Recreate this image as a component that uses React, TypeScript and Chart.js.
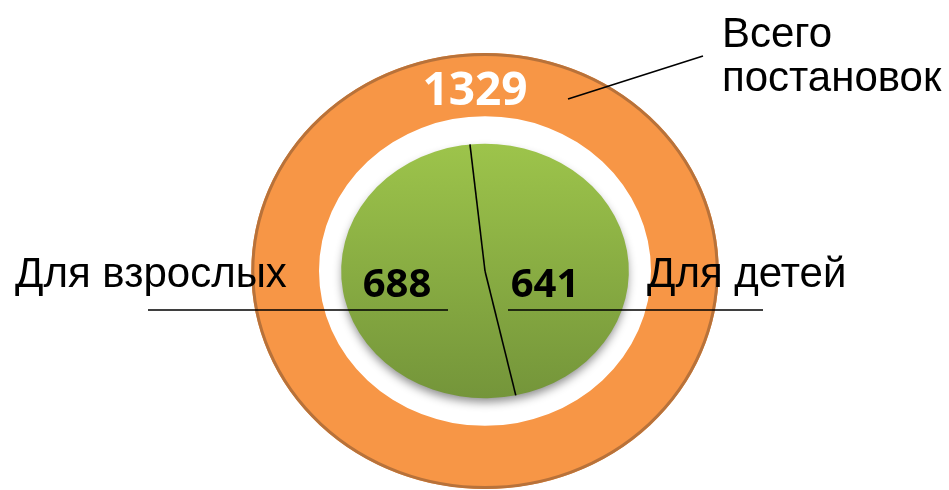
import React, { useEffect, useRef } from "react";
import { Chart, registerables } from "chart.js";

Chart.register(...registerables);

// ---- data ----
const categories = ["Для детей", "Для взрослых"];
const partValues = [641, 688];
const totalTitle = ["Всего", "постановок"];
const totalValues = [1329];
const spacerValues = [1];

// ---- styles ----
const ORANGE = "#F79646";
const ORANGE_EDGE = "#B8723A";
const GREEN_TOP = "#9DC44B";
const GREEN_BOTTOM = "#74953A";
const SCALE_X = [1.072, 1.08, 1.13]; // horizontal stretch per ring (ellipse look)
const LABEL_FONT = '42px "Liberation Sans", Arial, sans-serif';

export default function App() {
  const ref = useRef<HTMLCanvasElement>(null);

  useEffect(() => {
    const canvas = ref.current;
    if (!canvas) return;

    const greenFill = (c: any) => {
      const chart = c.chart;
      const area = chart.chartArea;
      if (!area) return GREEN_TOP;
      const meta = chart.getDatasetMeta(c.datasetIndex);
      const ctrl: any = meta.controller;
      const cy = (area.top + area.bottom) / 2 + (ctrl.offsetY || 0);
      const r = ctrl.outerRadius || 120;
      const g = chart.ctx.createLinearGradient(0, cy - r, 0, cy + r);
      g.addColorStop(0, GREEN_TOP);
      g.addColorStop(1, GREEN_BOTTOM);
      return g;
    };

    const deco = {
      id: "deco",
      beforeDatasetDraw(chart: any, args: any) {
        const ctx = chart.ctx;
        const el = args.meta.data[0];
        const cx = el.x, cy = el.y;
        const sx = SCALE_X[args.index] ?? 1;
        ctx.save();
        ctx.translate(cx, cy);
        ctx.scale(sx, 1);
        ctx.translate(-cx, -cy);
        if (args.index === 2) {
          ctx.save();
          ctx.shadowColor = "rgba(0,0,0,0.45)";
          ctx.shadowBlur = 10;
          ctx.shadowOffsetY = 5;
          ctx.fillStyle = GREEN_BOTTOM;
          ctx.beginPath();
          ctx.arc(cx, cy, el.outerRadius - 1, 0, Math.PI * 2);
          ctx.fill();
          ctx.restore();
        }
      },
      afterDatasetDraw(chart: any) {
        chart.ctx.restore();
      },
      afterDatasetsDraw(chart: any) {
        const ctx = chart.ctx;
        const outer = chart.getDatasetMeta(0).data[0];
        const cx = outer.x, cy = outer.y, R = outer.outerRadius;

        // outer edge of ring
        ctx.save();
        ctx.strokeStyle = ORANGE_EDGE;
        ctx.lineWidth = 3;
        ctx.beginPath();
        ctx.ellipse(cx, cy, R * SCALE_X[0] - 1.5, R - 1.5, 0, 0, Math.PI * 2);
        ctx.stroke();

        // slice dividers of inner pie
        const pie = chart.getDatasetMeta(2).data;
        ctx.strokeStyle = "#000";
        ctx.lineWidth = 1.6;
        pie.forEach((arc: any) => {
          const a = arc.startAngle;
          const r = arc.outerRadius;
          ctx.beginPath();
          ctx.moveTo(arc.x, arc.y);
          ctx.lineTo(arc.x + Math.cos(a) * r * SCALE_X[2], arc.y + Math.sin(a) * r);
          ctx.stroke();
        });

        // leader lines
        ctx.lineWidth = 1.6;
        ctx.beginPath();
        ctx.moveTo(cx - 337, cy + 39);
        ctx.lineTo(cx - 37, cy + 39);
        ctx.moveTo(cx + 23, cy + 39);
        ctx.lineTo(cx + 278, cy + 39);
        ctx.moveTo(cx + 83, cy - 172);
        ctx.lineTo(cx + 218, cy - 215);
        ctx.stroke();

        // value labels
        ctx.textBaseline = "alphabetic";
        ctx.textAlign = "center";
        ctx.fillStyle = "#FFFFFF";
        ctx.font = 'bold 46px "Open Sans", sans-serif';
        ctx.fillText(String(totalValues[0]), cx - 10, cy - 166);
        ctx.fillStyle = "#000";
        ctx.font = 'bold 40px "Open Sans", sans-serif';
        ctx.fillText(String(partValues[1]), cx - 88, cy + 26);
        ctx.fillText(String(partValues[0]), cx + 60, cy + 26);

        // category labels
        ctx.textAlign = "left";
        ctx.font = LABEL_FONT;
        ctx.fillText(categories[1], cx - 470, cy + 16);
        ctx.fillText(categories[0], cx + 162, cy + 16);
        ctx.fillText(totalTitle[0], cx + 237, cy - 224);
        ctx.fillText(totalTitle[1], cx + 237, cy - 180);
        ctx.restore();
      },
    };

    const chart = new Chart(canvas, {
      type: "pie",
      data: {
        labels: categories,
        datasets: [
          {
            label: totalTitle.join(" "),
            data: totalValues,
            backgroundColor: ORANGE,
            borderWidth: 0,
            hoverOffset: 0,
            weight: 63,
          } as any,
          {
            label: "spacer",
            data: spacerValues,
            backgroundColor: "rgba(0,0,0,0)",
            borderWidth: 0,
            hoverOffset: 0,
            weight: 27.5,
          } as any,
          {
            label: "Постановки",
            data: partValues,
            backgroundColor: greenFill,
            borderWidth: 0,
            hoverOffset: 0,
            rotation: -6,
            weight: 127,
          } as any,
        ],
      },
      options: {
        responsive: false,
        animation: false,
        devicePixelRatio: 1,
        layout: { padding: { top: 53, bottom: 1, left: 21, right: 0 } },
        plugins: {
          legend: { display: false },
          tooltip: { enabled: false },
        },
        events: [],
      },
      plugins: [deco],
    });

    return () => chart.destroy();
  }, []);

  return (
    <div style={{ position: "absolute", left: 0, top: 0, width: 949, height: 490, background: "#fff" }}>
      <canvas ref={ref} width={949} height={490} style={{ display: "block" }} />
    </div>
  );
}
